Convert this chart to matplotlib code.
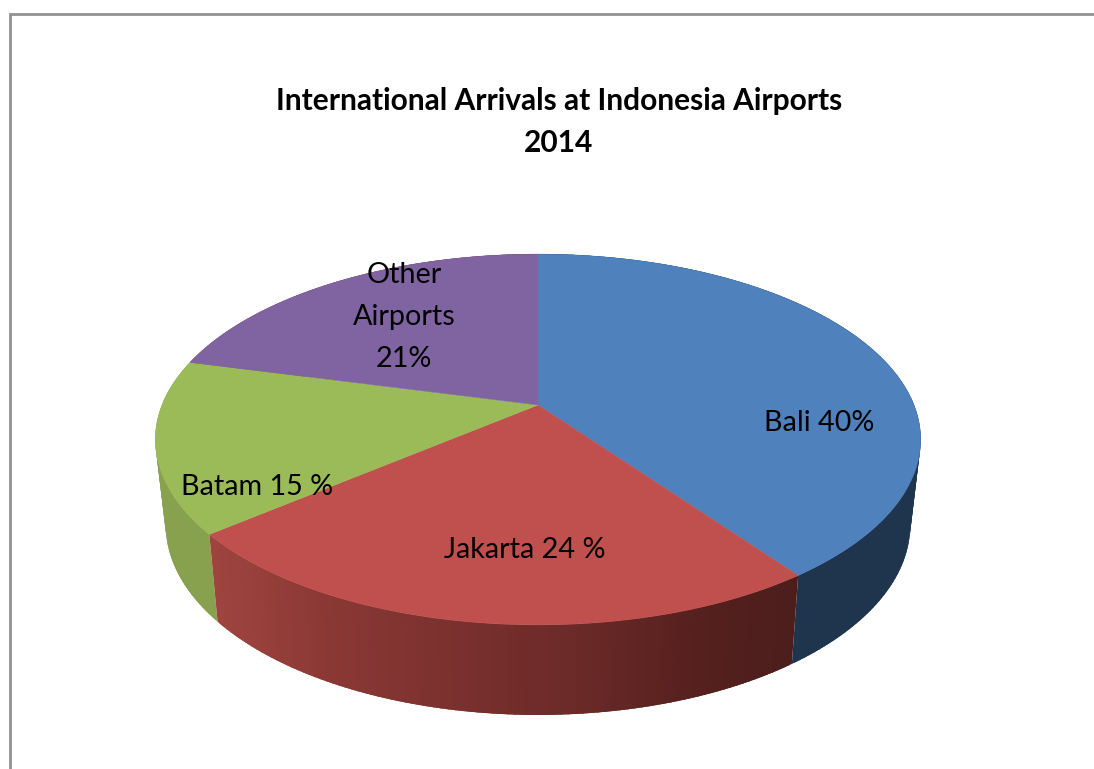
import numpy as np
import matplotlib
matplotlib.use("Agg")
import matplotlib.pyplot as plt
from matplotlib.patches import Polygon
from matplotlib.colors import to_rgb

# Share of international arrivals by airport, clockwise from twelve o'clock
airports = ["Bali", "Jakarta", "Batam", "Other Airports"]
shares = [40, 24, 15, 21]
labels = ["Bali 40%", "Jakarta 24 %", "Batam 15 %", "Other\nAirports\n21%"]
title_lines = ["International Arrivals at Indonesia Airports", "2014"]

top_colors = ["#4f81bd", "#c0504d", "#9bbb59", "#8064a2"]
label_xy = [(819, 423), (525, 550), (257, 487), (404, 317)]

W, H = 1094, 769
fig = plt.figure(figsize=(W / 100, H / 100), dpi=100)
ax = fig.add_axes([0, 0, 1, 1])
ax.set_xlim(0, W)
ax.set_ylim(H, 0)
ax.axis("off")

# Perspective projection of the unit disc onto the page, for both faces
TOP = dict(cx=538, y0=405, a=376, b=179, k=0.186)
BOTTOM = dict(cx=538, y0=489, a=365.5, b=183, k=0.19)


def project(theta, face):
    X = np.sin(theta)
    Y = np.cos(theta)
    w = 1 + face["k"] * Y
    return face["cx"] + face["a"] * X / w, face["y0"] - face["b"] * Y / w


def side_color(i, x):
    if i == 0:
        return to_rgb("#1f344d")
    if i == 2:
        return to_rgb("#87a14f")
    # The Jakarta wall darkens from left to right
    stops = np.array([to_rgb(c) for c in ("#9e443f", "#8b3835", "#702c2a", "#55201e", "#4b1e1c")])
    xs = [217, 330, 538, 700, 798]
    return tuple(np.interp(x, xs, stops[:, n]) for n in range(3))


fractions = np.cumsum([0] + shares) / sum(shares)
edges = 2 * np.pi * fractions

# Wall strips, far ones first; each one reaches a little under its neighbour to hide seams
strips = []
for i in range(len(shares)):
    n = max(int((edges[i + 1] - edges[i]) * 60), 2)
    t = np.linspace(edges[i], edges[i + 1], n + 1)
    step = t[1] - t[0]
    for a, b in zip(t[:-1], t[1:]):
        lo = max(a - step * 0.6, edges[i])
        hi = min(b + step * 0.6, edges[i + 1])
        xa, ya = project(lo, TOP)
        xb, yb = project(hi, TOP)
        xc, yc = project(hi, BOTTOM)
        xd, yd = project(lo, BOTTOM)
        depth = np.cos((a + b) / 2)
        strips.append((depth, [(xa, ya), (xb, yb), (xc, yc), (xd, yd)],
                       side_color(i, (xa + xb) / 2)))
strips.sort(key=lambda s: -s[0])
for _, pts, col in strips:
    ax.add_patch(Polygon(pts, closed=True, facecolor=col, edgecolor="none", zorder=2))

# Upper face of each slice
for i, col in enumerate(top_colors):
    t = np.linspace(edges[i], edges[i + 1], 200)
    xs, ys = project(t, TOP)
    pts = [(TOP["cx"], TOP["y0"])] + list(zip(xs, ys))
    ax.add_patch(Polygon(pts, closed=True, facecolor=col, edgecolor=col, linewidth=0.3, zorder=3))

for text, (x, y) in zip(labels, label_xy):
    ax.text(x, y, text, ha="center", va="center", fontsize=20.7, family="Lato",
            color="black", linespacing=1.74, zorder=4)

for line, y in zip(title_lines, (101, 143)):
    ax.text(559, y, line, ha="center", va="center", fontsize=21.5, family="Lato",
            fontweight="bold", color="black", zorder=4)

# Chart frame, running off the right and bottom of the page
ax.plot([9.5, 9.5, W + 5], [H + 5, 13.5, 13.5], color="#929292", linewidth=2.0,
        solid_joinstyle="miter", zorder=1)

fig.savefig("out.png", dpi=100)
